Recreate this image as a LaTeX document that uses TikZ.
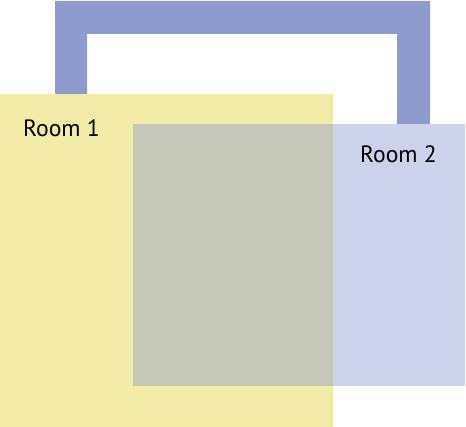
\documentclass[tikz,border=0pt]{standalone}
\usepackage{fontspec}
\setmainfont{PT Sans}
\definecolor{wallblue}{HTML}{8F9BCF}
\definecolor{roomyellow}{HTML}{F2ECA8}
\begin{document}
\begin{tikzpicture}[
  x = 1pt, y = -1pt,
  room/.style={draw=none},
  label/.style={anchor=base west, inner sep=0pt, font=\fontsize{23.6}{24}\selectfont}]
\useasboundingbox (0,0) rectangle (466,427);
% corridor between the rooms
\fill[wallblue] (55,94) -- (55,1) -- (430,1) -- (430,124) -- (397,124)
  -- (397,34) -- (87,34) -- (87,94) -- cycle;
\fill[room, roomyellow] (0,94) rectangle (333,427);
\fill[room, wallblue, fill opacity=0.45] (133,124) rectangle (465,386);
\node[label] (room1) at (23,137) {Room 1};
\node[label] (room2) at (360,163) {Room 2};
\end{tikzpicture}
\end{document}
